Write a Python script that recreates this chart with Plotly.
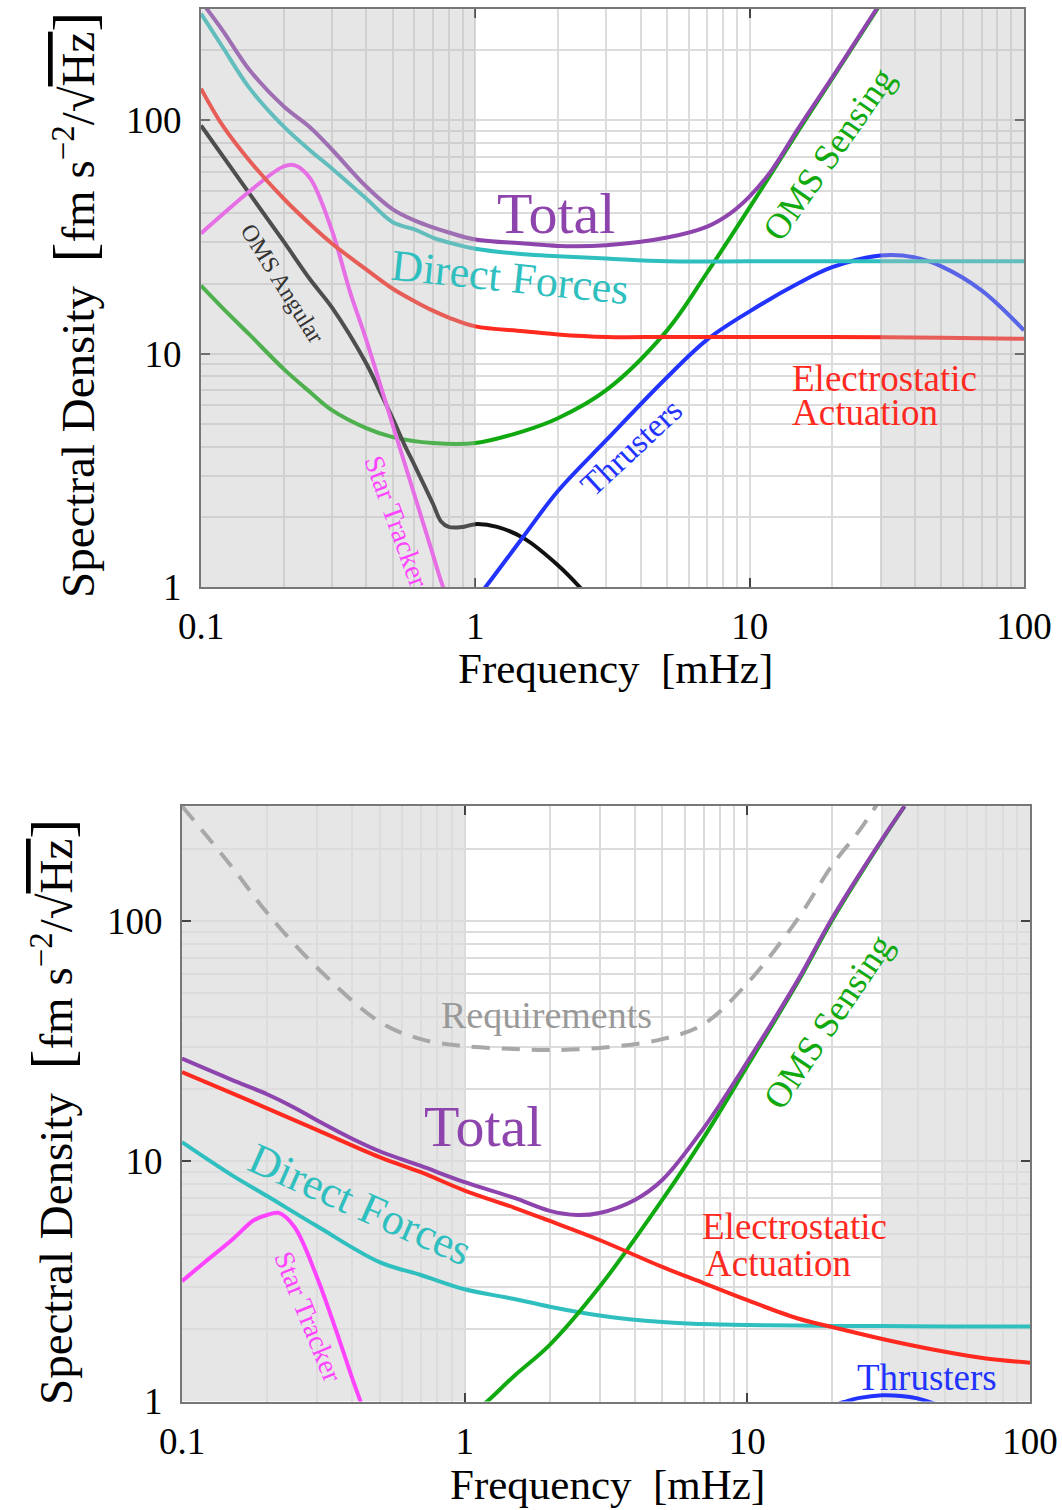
import math
import plotly.graph_objects as go

# ---------------- data: top panel ----------------
f_top_total = [0.1, 0.12, 0.15, 0.2, 0.25, 0.3, 0.4, 0.5, 0.6, 0.7, 0.8, 1, 1.5, 2, 3, 5, 7, 8.5, 10, 12, 15, 20, 30]
top_total = [325, 243, 165, 115, 93.3, 75.1, 52.1, 41.6, 37.3, 34.8, 33.1, 30.9, 29.7, 29.0, 29.2, 31.5, 35.1, 40, 47.3, 61, 92, 153, 320]

f_top_direct = [0.1, 0.12, 0.15, 0.2, 0.25, 0.3, 0.4, 0.5, 0.6, 0.7, 0.8, 1, 1.5, 2, 3, 5, 10, 20, 50, 100]
top_direct = [287, 206, 138, 94.3, 74.4, 62.3, 46.3, 36.6, 34.1, 31.5, 30.0, 28.2, 26.7, 26.2, 25.6, 24.9, 24.9, 24.9, 24.9, 24.9]

f_top_electro = [0.1, 0.12, 0.15, 0.2, 0.25, 0.3, 0.4, 0.5, 0.6, 0.7, 0.8, 1, 1.5, 2, 3, 5, 10, 20, 50, 100]
top_electro = [137, 95, 67.4, 46.3, 35.9, 29.7, 23.0, 19.0, 16.8, 15.3, 14.3, 13.1, 12.5, 12.1, 11.8, 11.8, 11.8, 11.8, 11.7, 11.6]

f_top_oms = [0.1, 0.12, 0.15, 0.2, 0.25, 0.3, 0.4, 0.5, 0.7, 1, 1.5, 2, 3, 5, 7, 10, 12, 15, 20, 30]
top_oms = [19.6, 15.7, 12.1, 8.61, 6.84, 5.73, 4.80, 4.39, 4.14, 4.14, 4.66, 5.29, 6.98, 12.6, 22.3, 42.4, 59.3, 89.7, 151, 316]

f_top_ang = [0.1, 0.15, 0.2, 0.25, 0.3, 0.4, 0.45, 0.5, 0.55, 0.6, 0.7, 0.75, 0.8, 0.9, 1, 1.2, 1.5, 2, 2.4, 2.7]
top_ang = [95.2, 48.7, 30.3, 20.8, 15.8, 9.1, 6.84, 5.27, 4.1, 3.33, 2.28, 1.91, 1.81, 1.81, 1.86, 1.81, 1.62, 1.24, 1.0, 0.85]

f_top_star = [0.1, 0.12, 0.15, 0.2, 0.22, 0.25, 0.3, 0.35, 0.4, 0.5, 0.6, 0.7, 0.75, 0.85]
top_star = [32.8, 39.6, 49.6, 63.5, 64.2, 56.5, 33.8, 18.3, 11.5, 4.94, 2.48, 1.38, 1.06, 0.7]

f_top_thr = [1.0, 1.09, 1.5, 2, 3, 5, 7, 10, 15, 20, 30, 40, 50, 70, 100]
top_thr = [0.88, 1.0, 1.65, 2.58, 4.26, 7.93, 11.5, 15.2, 20.0, 23.5, 26.4, 25.9, 23.7, 18.7, 12.6]

# ---------------- data: bottom panel ----------------
f_bot = [0.1, 0.15, 0.2, 0.3, 0.5, 0.7, 1, 1.5, 2, 3, 5, 7, 10, 15, 20, 30, 50, 70, 100]
bot_electro = [23.5, 19.2, 16.6, 13.5, 10.4, 9.0, 7.55, 6.4, 5.64, 4.70, 3.63, 3.11, 2.64, 2.22, 2.04, 1.82, 1.61, 1.51, 1.45]
bot_direct = [12.0, 8.75, 7.16, 5.37, 3.80, 3.36, 2.93, 2.67, 2.48, 2.28, 2.14, 2.10, 2.08, 2.07, 2.06, 2.06, 2.05, 2.05, 2.05]

f_bot_req = [0.1, 0.15, 0.2, 0.3, 0.5, 0.7, 1, 1.5, 2, 3, 5, 7, 10, 15, 20, 25, 30]
bot_req = [300, 168, 108, 64, 38, 32.2, 30.1, 29.3, 29, 29.6, 32.2, 37.2, 55, 101, 171, 239, 330]

f_bot_total = [0.1, 0.15, 0.2, 0.25, 0.3, 0.4, 0.5, 0.7, 1, 1.5, 2, 2.5, 3, 4, 5, 7, 10, 15, 20, 30, 36]
bot_total = [26.7, 21.8, 19.0, 16.7, 14.8, 12.4, 11.0, 9.55, 8.18, 7.03, 6.21, 5.97, 6.09, 6.9, 8.35, 13.7, 25.9, 56, 103, 219, 300]

f_bot_oms = [1.1, 1.2, 1.5, 2, 3, 5, 7, 10, 15, 20, 30, 36]
bot_oms = [0.92, 1.0, 1.28, 1.72, 3.0, 6.9, 12.5, 24.9, 55, 101, 217, 300]

f_bot_star = [0.1, 0.12, 0.15, 0.18, 0.2, 0.22, 0.25, 0.3, 0.35, 0.4, 0.43, 0.45]
bot_star = [3.17, 3.79, 4.70, 5.69, 5.97, 6.09, 5.32, 3.30, 1.99, 1.25, 0.985, 0.85]

f_bot_thr = [20, 22, 25, 30, 35, 40, 44, 50]
bot_thr = [0.96, 0.995, 1.035, 1.062, 1.055, 1.03, 0.995, 0.95]

x_tickvals = [0.1, 1, 10, 100]
x_ticktext = ["0.1", "1", "10", "100"]
y_tickvals = [1, 10, 100]
y_ticktext = ["1", "10", "100"]
minor_vals = [k * 10 ** e for e in (-1, 0, 1, 2) for k in range(2, 10)]

# ---------------- style ----------------
C_TOTAL = "#8e44ad"
C_DIRECT = "#30bfbf"
C_RED = "#ff2a1f"
C_GREEN = "#10aa10"
C_BLUE = "#2233ff"
C_BLACK = "#111111"
C_STAR = "#ff44ff"
C_REQ = "#a8a8a8"
SERIF = "Liberation Serif"
LW = 4

fig = go.Figure()


def add_line(x, y, color, axis, dash=None, width=LW):
    xa, ya = axis
    fig.add_trace(go.Scatter(
        x=x, y=y, mode="lines", xaxis=xa, yaxis=ya,
        line=dict(color=color, width=width, shape="spline", smoothing=1.0, dash=dash),
        hoverinfo="skip", showlegend=False))


T = ("x", "y")
B = ("x2", "y2")

# top panel
add_line(f_top_oms, top_oms, C_GREEN, T)
add_line(f_top_ang, top_ang, C_BLACK, T)
add_line(f_top_star, top_star, C_STAR, T)
add_line(f_top_thr, top_thr, C_BLUE, T)
add_line(f_top_electro, top_electro, C_RED, T)
add_line(f_top_direct, top_direct, C_DIRECT, T)
add_line(f_top_total, top_total, C_TOTAL, T)

# bottom panel
add_line(f_bot_req, bot_req, C_REQ, B, dash="18px,12px", width=4)
add_line(f_bot_star, bot_star, C_STAR, B)
add_line(f_bot_thr, bot_thr, C_BLUE, B)
add_line(f_bot, bot_direct, C_DIRECT, B)
add_line(f_bot_oms, bot_oms, C_GREEN, B)
add_line(f_bot, bot_electro, C_RED, B)
add_line(f_bot_total, bot_total, C_TOTAL, B)

GRID = "#dcdcdc"
FRAME = "#777777"


def axis_common(tickvals, ticktext, rng, domain, anchor):
    return dict(
        type="log", range=rng, domain=domain, anchor=anchor,
        tickmode="array", tickvals=tickvals, ticktext=ticktext,
        showgrid=True, gridcolor=GRID, gridwidth=1.5,
        minor=dict(tickmode="array", tickvals=minor_vals, showgrid=True,
                   gridcolor=GRID, gridwidth=1.5, ticks=""),
        showline=True, linecolor=FRAME, linewidth=2, mirror="ticks",
        ticks="inside", ticklen=9, tickwidth=1.5, tickcolor="#444444",
        tickfont=dict(family=SERIF, size=37, color="black"),
        zeroline=False, fixedrange=True, automargin=False,
    )


XR = [-1, 2]
YR = [0, 2.478]

fig.update_layout(
    width=1062, height=1510,
    margin=dict(l=0, r=0, t=0, b=0, pad=0, autoexpand=False),
    paper_bgcolor="white", plot_bgcolor="white",
    showlegend=False,
    xaxis=dict(axis_common(x_tickvals, x_ticktext, XR, [201 / 1062, 1024 / 1062], "y"), ticklabelstandoff=6),
    yaxis=dict(axis_common(y_tickvals, y_ticktext, YR, [1 - 587 / 1510, 1 - 9 / 1510], "x"), ticklabelstandoff=10),
    xaxis2=dict(axis_common(x_tickvals, x_ticktext, XR, [182 / 1062, 1030 / 1062], "y2"), ticklabelstandoff=6),
    yaxis2=dict(axis_common(y_tickvals, y_ticktext, YR, [1 - 1401.5 / 1510, 1 - 806 / 1510], "x2"), ticklabelstandoff=10),
)

# shaded bands (excluded frequency ranges)
bands = [(0.1, 1), (30, 100)]
for lo, hi in bands:
    fig.add_shape(type="rect", xref="x", yref="y", x0=lo, x1=hi, y0=1, y1=300,
                  fillcolor="rgba(186,186,186,0.365)", line=dict(width=0), layer="above")
    fig.add_shape(type="rect", xref="x2", yref="y2", x0=lo, x1=hi, y0=1, y1=300,
                  fillcolor="#e6e6e6", line=dict(width=0), layer="below")


def label(text, f, v, color, size, angle=0, axis=T, xanchor="center"):
    xa, ya = axis
    fig.add_annotation(text=text, x=math.log10(f), y=math.log10(v), xref=xa, yref=ya,
                       showarrow=False, textangle=angle, xanchor=xanchor, yanchor="middle",
                       font=dict(family=SERIF, size=size, color=color))


# top labels
label("Total", 1.97, 40.0, C_TOTAL, 58)
label("Direct Forces", 1.34, 21.3, C_DIRECT, 44, angle=6)
label("OMS Sensing", 19.4, 72.0, C_GREEN, 36, angle=-55)
label("Electrostatic", 14.0, 7.85, C_RED, 37, xanchor="left")
label("Actuation", 14.0, 5.60, C_RED, 37, xanchor="left")
label("Thrusters", 3.72, 3.98, C_BLUE, 33, angle=-43)
label("Star Tracker", 0.515, 1.90, C_STAR, 28, angle=70)
label("OMS Angular", 0.199, 20.0, "#333333", 24, angle=58)

# bottom labels
label("Requirements", 1.955, 40.5, "#999999", 38, axis=B)
label("Total", 1.16, 13.9, C_TOTAL, 58, axis=B)
label("Direct Forces", 0.427, 6.58, C_DIRECT, 44, angle=24, axis=B)
label("Star Tracker", 0.279, 2.25, C_STAR, 28, angle=68, axis=B)
label("OMS Sensing", 19.3, 37.9, C_GREEN, 36, angle=-56, axis=B)
label("Electrostatic", 6.79, 5.37, C_RED, 37, axis=B, xanchor="left")
label("Actuation", 6.97, 3.76, C_RED, 37, axis=B, xanchor="left")
label("Thrusters", 43.2, 1.253, C_BLUE, 37, axis=B)

# axis titles
YT = ("Spectral Density  <span style='font-size:60px'>[</span>fm s<sup>−2</sup>/√"
      "<span style='text-decoration:overline'>Hz</span><span style='font-size:60px'>]</span>")
XT = "Frequency  [mHz]"
for (xp, yp, txt, ang, sz) in [(615, 668, XT, 0, 43), (74, 305, YT, -90, 47),
                               (607, 1484, XT, 0, 43), (52, 1112, YT, -90, 47)]:
    fig.add_annotation(text=txt, x=xp / 1062, y=1 - yp / 1510, xref="paper", yref="paper",
                       showarrow=False, textangle=ang, xanchor="center", yanchor="middle",
                       font=dict(family=SERIF, size=sz, color="black"))

fig.write_html("out.html")
